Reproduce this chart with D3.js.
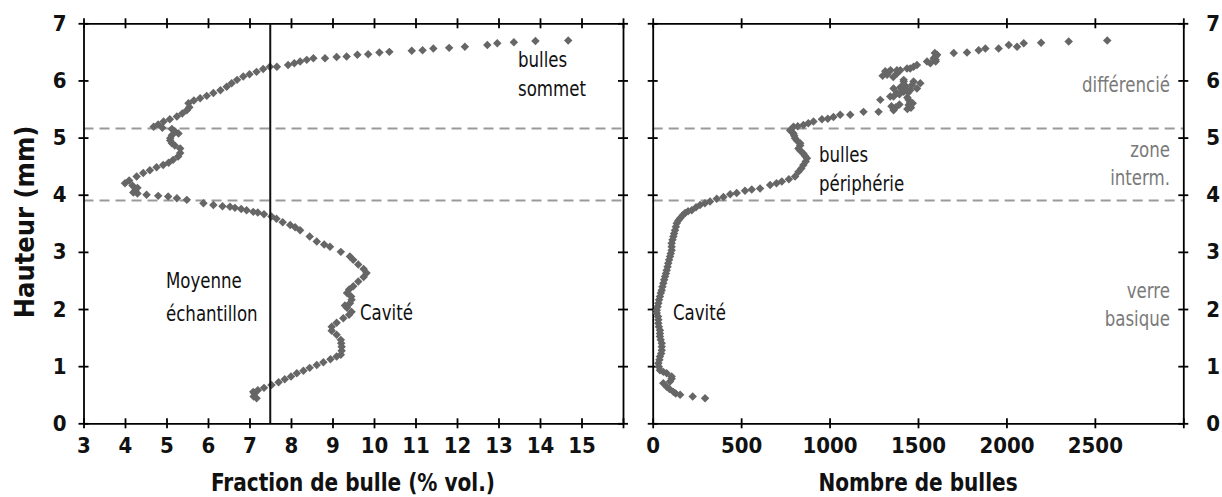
<!DOCTYPE html>
<html><head><meta charset="utf-8">
<script src="https://cdn.jsdelivr.net/npm/d3@7"></script>
<style>
body{margin:0;background:#fff;}
svg{display:block;}
text{font-family:"DejaVu Sans Condensed","Liberation Sans Narrow","Roboto Condensed",sans-serif;font-stretch:condensed;}
</style></head>
<body><svg id="c" width="1222" height="497"></svg>
<script>
// ---- data ----
const leftFraction = [7.17,7.10,7.12,7.09,7.20,7.35,7.53,7.70,7.85,8.00,8.14,8.30,8.45,8.62,8.78,8.95,9.10,9.20,9.22,9.22,9.21,9.20,9.10,8.98,8.98,9.10,9.26,9.40,9.46,9.35,9.30,9.42,9.46,9.45,9.35,9.40,9.50,9.62,9.75,9.82,9.75,9.62,9.50,9.42,9.20,8.94,8.80,8.62,8.45,8.22,8.10,7.98,7.80,7.65,7.53,7.35,7.20,7.09,6.93,6.80,6.65,6.53,6.35,6.13,5.89,5.49,5.25,5.04,4.80,4.52,4.30,4.20,4.25,4.30,4.18,4.00,4.10,4.28,4.44,4.60,4.76,4.92,5.05,5.16,5.28,5.33,5.33,5.20,5.13,5.09,5.09,5.13,5.29,5.20,5.13,4.90,4.69,4.80,4.93,5.08,5.25,5.38,5.49,5.55,5.53,5.66,5.81,5.97,6.13,6.30,6.45,6.57,6.70,6.85,7.00,7.17,7.33,7.49,7.66,7.93,8.08,8.22,8.38,8.54,8.82,9.10,9.34,9.60,9.86,10.13,10.37,10.91,11.17,11.43,11.81,12.19,12.73,12.97,13.37,13.89,14.68];
const leftHeight = [0.44,0.47,0.52,0.55,0.58,0.62,0.67,0.72,0.77,0.82,0.875,0.92,0.97,1.02,1.07,1.12,1.17,1.20,1.27,1.34,1.40,1.46,1.55,1.62,1.69,1.76,1.84,1.90,1.95,2.02,2.06,2.10,2.16,2.22,2.28,2.34,2.40,2.48,2.56,2.63,2.70,2.78,2.86,2.92,3.00,3.09,3.13,3.18,3.27,3.38,3.43,3.47,3.52,3.58,3.62,3.66,3.69,3.70,3.73,3.75,3.77,3.79,3.80,3.82,3.85,3.91,3.94,3.97,3.98,4.00,4.02,4.04,4.08,4.12,4.16,4.20,4.25,4.32,4.38,4.43,4.48,4.52,4.56,4.61,4.67,4.73,4.81,4.86,4.90,4.95,4.99,5.04,5.07,5.11,5.15,5.17,5.19,5.23,5.28,5.32,5.37,5.42,5.48,5.53,5.60,5.65,5.69,5.73,5.78,5.83,5.89,5.95,6.01,6.07,6.11,6.15,6.20,6.24,6.24,6.27,6.30,6.33,6.36,6.39,6.39,6.41,6.42,6.45,6.46,6.49,6.50,6.52,6.53,6.56,6.57,6.59,6.62,6.65,6.67,6.69,6.70];

const rightCount = [296,226,155,130,117,95,79,60,98,107,107,79,60,41,35,32,38,41,48,51,51,51,45,41,41,41,35,32,32,30,23,23,28,32,36,41,46,51,55,60,65,70,75,79,84,88,93,98,102,107,107,107,112,117,121,126,131,136,145,155,170,183,200,221,245,268,295,324,362,400,438,475,522,560,607,664,700,730,770,805,824,840,852,865,872,860,852,835,824,834,834,815,805,800,796,785,777,796,820,852,880,909,957,990,1022,1060,1117,1192,1277,1362,1362,1447,1456,1287,1343,1362,1381,1419,1447,1362,1438,1456,1494,1419,1475,1513,1466,1419,1325,1334,1381,1381,1400,1438,1456,1475,1494,1551,1570,1589,1600,1608,1600,1702,1777,1843,1881,1956,2013,2060,2098,2196,2352,2570,1300,1315,1345,1360,1395,1410,1430,1445,1400,1420,1440,1455,1470,1350,1375,1395,1440,1460,1600,1595];
const rightHeight = [0.44,0.47,0.50,0.52,0.55,0.60,0.64,0.70,0.73,0.78,0.82,0.875,0.90,0.93,0.99,1.05,1.11,1.17,1.22,1.28,1.34,1.40,1.46,1.52,1.57,1.63,1.69,1.75,1.81,1.87,1.93,1.98,2.04,2.10,2.16,2.22,2.28,2.33,2.39,2.45,2.51,2.57,2.62,2.68,2.74,2.80,2.86,2.92,2.97,3.03,3.09,3.15,3.21,3.27,3.32,3.38,3.44,3.50,3.55,3.59,3.64,3.68,3.71,3.73,3.78,3.82,3.85,3.88,3.93,3.96,4.01,4.03,4.07,4.09,4.11,4.17,4.20,4.23,4.27,4.32,4.40,4.46,4.52,4.58,4.64,4.68,4.72,4.77,4.81,4.86,4.90,4.95,4.99,5.03,5.07,5.10,5.13,5.19,5.20,5.22,5.25,5.28,5.32,5.33,5.36,5.40,5.40,5.45,5.45,5.48,5.51,5.57,5.54,5.66,5.72,5.72,5.78,5.80,5.66,5.86,5.83,5.83,5.86,5.98,5.98,5.95,5.92,6.01,6.10,6.15,6.12,6.18,6.18,6.21,6.21,6.24,6.27,6.33,6.30,6.39,6.36,6.45,6.42,6.48,6.49,6.53,6.56,6.56,6.62,6.59,6.65,6.66,6.68,6.70,6.08,6.16,6.18,6.06,5.76,5.84,5.90,5.79,5.88,5.93,5.70,5.62,5.60,5.55,5.53,5.58,5.50,5.52,6.33,6.48];

const leftXTicks = [3,4,5,6,7,8,9,10,11,12,13,14,15,16];
const rightXTicks = [0,500,1000,1500,2000,2500,3000];
const yTicks = [0,1,2,3,4,5,6,7];
const zoneBounds = [5.16, 3.9];
const sampleMean = 7.5;

// ---- layout ----
const svg = d3.select('#c');
const yTop = 23.3, yBottom = 423.3;
const y = d3.scaleLinear().domain([0,7]).range([yBottom, yTop]);
const xL = d3.scaleLinear().domain([3,16]).range([83.5, 623]);
const xR = d3.scaleLinear().domain([0,3000]).range([652.7, 1183.3]);
const markColor = '#666666';
const sym = d3.symbol(d3.symbolSquare, 36);

function cross(g, horiz) {
  g.selectAll('.tick line').attr(horiz ? 'y1' : 'x1', -5).attr(horiz ? 'y2' : 'x2', 5)
    .attr('stroke','#000').attr('stroke-width',1.8);
  g.select('.domain').attr('stroke','#000').attr('stroke-width',1.8);
  g.selectAll('.tick text').attr('font-weight','bold').attr('font-size',22).attr('fill','#111');
}

function panel(x, xt, labelFilter, xs, ys, opts) {
  const [x0, x1] = x.range();
  svg.append('g').selectAll('line').data(zoneBounds).join('line')
    .attr('x1', x0).attr('x2', x1).attr('y1', d=>y(d)).attr('y2', d=>y(d))
    .attr('stroke','#9a9a9a').attr('stroke-width',2).attr('stroke-dasharray','10,6');
  const gb = svg.append('g').attr('transform',`translate(0,${yBottom})`)
    .call(d3.axisBottom(x).tickValues(xt).tickSizeOuter(0).tickPadding(8)
      .tickFormat(d => labelFilter(d) ? d : ''));
  cross(gb, true);
  const gt = svg.append('g').attr('transform',`translate(0,${yTop})`)
    .call(d3.axisTop(x).tickValues(xt).tickSizeOuter(0).tickFormat(''));
  cross(gt, true);
  const gl = svg.append('g').attr('transform',`translate(${x0},0)`)
    .call(d3.axisLeft(y).tickValues(yTicks).tickSizeOuter(0).tickPadding(11)
      .tickFormat(opts.leftLabels ? d3.format('d') : ''));
  cross(gl, false);
  const gr = svg.append('g').attr('transform',`translate(${x1},0)`)
    .call(d3.axisRight(y).tickValues(yTicks).tickSizeOuter(0).tickPadding(17)
      .tickFormat(opts.rightLabels ? d3.format('d') : ''));
  cross(gr, false);
  svg.append('g').selectAll('path').data(xs.map((v,i)=>[v, ys[i]])).join('path')
    .attr('d', sym).attr('fill', markColor)
    .attr('transform', d => `translate(${x(d[0])},${y(d[1])}) rotate(45)`);
}

panel(xL, leftXTicks, d => d <= 15, leftFraction, leftHeight, {leftLabels:true, rightLabels:false});
panel(xR, rightXTicks, d => d <= 2500, rightCount, rightHeight, {leftLabels:false, rightLabels:true});

svg.append('line').attr('x1', xL(sampleMean)).attr('x2', xL(sampleMean))
  .attr('y1', y(0)).attr('y2', y(7)).attr('stroke','#111').attr('stroke-width',2);

function txt(x0, y0, s, opt={}) {
  return svg.append('text').attr('transform', `translate(${x0},${y0}) scale(${opt.sx || 0.88},1)`).text(s)
    .attr('font-size', opt.size || 21).attr('fill', opt.fill || '#111')
    .attr('text-anchor', opt.anchor || 'start')
    .attr('font-weight', opt.bold ? 'bold' : 'normal');
}
txt(518, 67, 'bulles'); txt(518, 96, 'sommet');
txt(166, 288, 'Moyenne'); txt(166, 321, 'échantillon');
txt(360, 320, 'Cavité');
txt(673, 320, 'Cavité');
txt(819, 162, 'bulles'); txt(819, 191, 'périphérie');
const g = '#7a7a7a';
txt(1170, 92, 'différencié', {anchor:'end', fill:g});
txt(1170, 157, 'zone', {anchor:'end', fill:g});
txt(1170, 185, 'interm.', {anchor:'end', fill:g});
txt(1170, 298, 'verre', {anchor:'end', fill:g});
txt(1170, 326, 'basique', {anchor:'end', fill:g});

txt(353, 491, 'Fraction de bulle (% vol.)', {anchor:'middle', bold:true, size:24, sx:0.93});
txt(918, 491, 'Nombre de bulles', {anchor:'middle', bold:true, size:24, sx:0.93});
svg.append('text').attr('transform','translate(34,222) rotate(-90)')
  .attr('text-anchor','middle').attr('font-weight','bold').attr('font-size',27)
  .attr('fill','#111').text('Hauteur (mm)');
</script></body></html>
